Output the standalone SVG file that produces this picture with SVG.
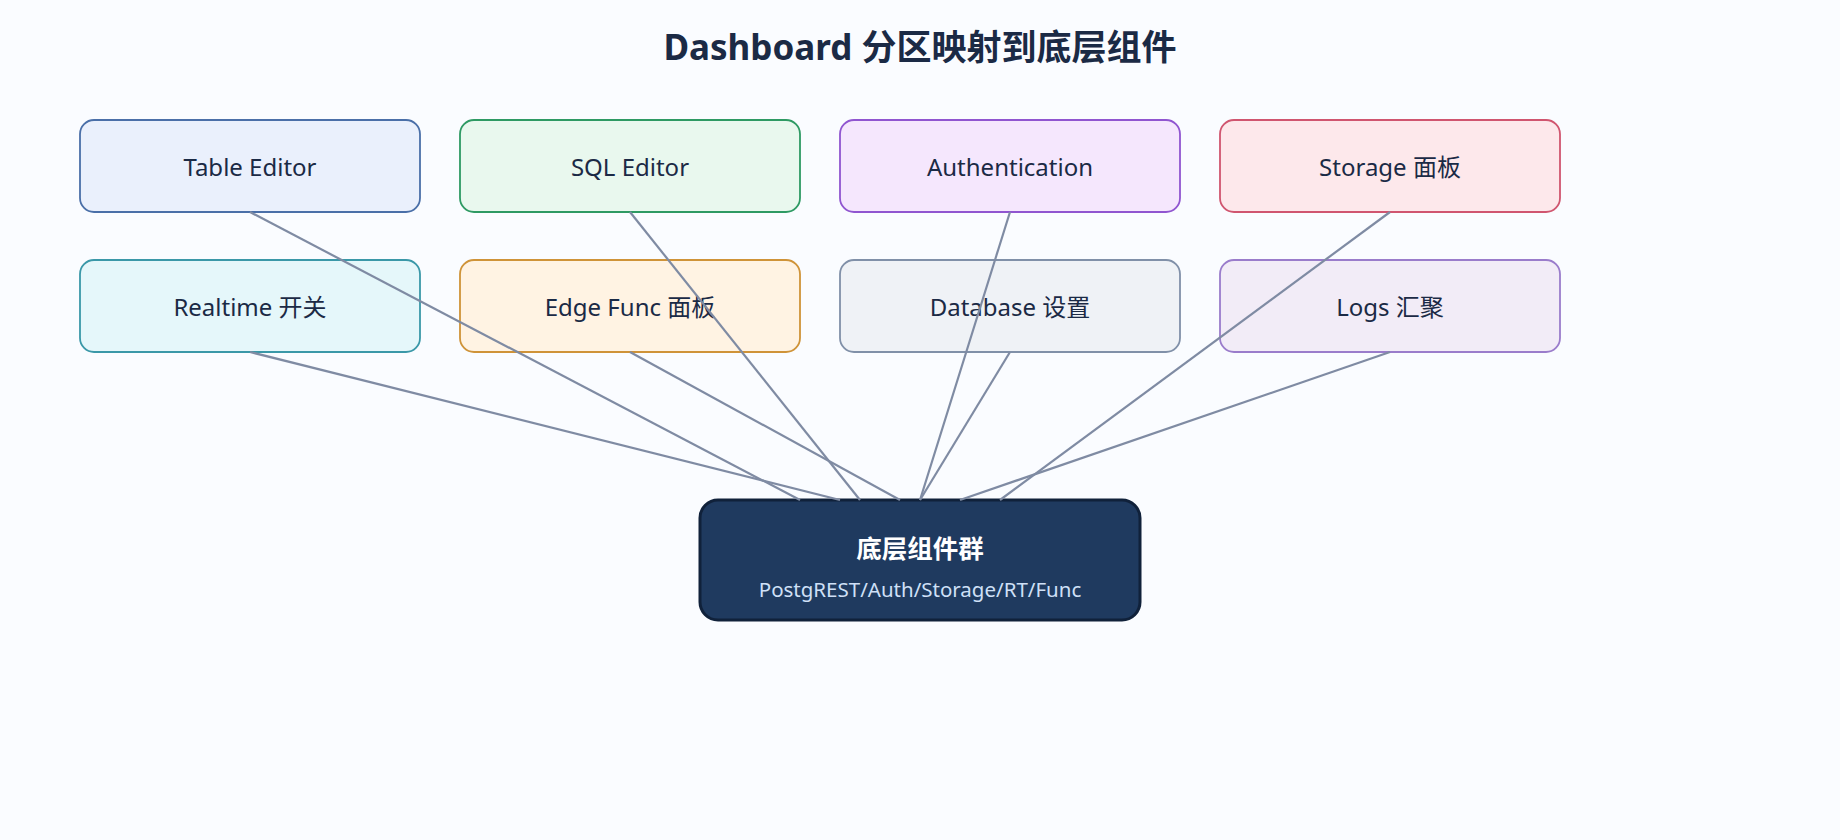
<svg xmlns="http://www.w3.org/2000/svg" width="1840" height="840" viewBox="0 0 1840 840">
<style>
.bg{fill:#fafcff}
.title{font-family:"Noto Sans","Noto Sans CJK SC",sans-serif;font-size:35px;font-weight:700;fill:#1b2a45;text-anchor:middle}
.box{stroke-width:1.8}
.lbl{font-family:"Noto Sans","Noto Sans CJK SC",sans-serif;font-size:24px;fill:#1b2a45;text-anchor:middle;dominant-baseline:central}
.edge{stroke:#7f8ba3;stroke-width:2.2;fill:none}
.core{fill:#1f3a5f;stroke:#10213a;stroke-width:3}
.coreT{font-family:"Noto Sans","Noto Sans CJK SC",sans-serif;font-size:25.5px;font-weight:700;fill:#ffffff;text-anchor:middle}
.coreS{font-family:"Noto Sans","Noto Sans CJK SC",sans-serif;font-size:20.5px;fill:#cfe0f7;text-anchor:middle}
</style>
<rect class="bg" x="0" y="0" width="1840" height="840"/>
<text class="title" x="920" y="60">Dashboard 分区映射到底层组件</text>
<g id="n-table"><rect class="box" x="80" y="120" width="340" height="92" rx="14" fill="#eaf0fc" stroke="#4a6fa8"/><text class="lbl" x="250" y="166">Table Editor</text></g>
<g id="n-sql"><rect class="box" x="460" y="120" width="340" height="92" rx="14" fill="#e9f8ee" stroke="#2e9a63"/><text class="lbl" x="630" y="166">SQL Editor</text></g>
<g id="n-auth"><rect class="box" x="840" y="120" width="340" height="92" rx="14" fill="#f5e7fd" stroke="#9055d0"/><text class="lbl" x="1010" y="166">Authentication</text></g>
<g id="n-storage"><rect class="box" x="1220" y="120" width="340" height="92" rx="14" fill="#fde8eb" stroke="#d0556f"/><text class="lbl" x="1390" y="166">Storage 面板</text></g>
<g id="n-realtime"><rect class="box" x="80" y="260" width="340" height="92" rx="14" fill="#e5f7fa" stroke="#3a98a8"/><text class="lbl" x="250" y="306">Realtime 开关</text></g>
<g id="n-edge"><rect class="box" x="460" y="260" width="340" height="92" rx="14" fill="#fff3e3" stroke="#cf9338"/><text class="lbl" x="630" y="306">Edge Func 面板</text></g>
<g id="n-db"><rect class="box" x="840" y="260" width="340" height="92" rx="14" fill="#eff2f6" stroke="#8090a8"/><text class="lbl" x="1010" y="306">Database 设置</text></g>
<g id="n-logs"><rect class="box" x="1220" y="260" width="340" height="92" rx="14" fill="#f2ecf7" stroke="#9a7ccb"/><text class="lbl" x="1390" y="306">Logs 汇聚</text></g>
<g id="n-core"><rect class="core" x="700" y="500" width="440" height="120" rx="18"/><text class="coreT" x="920" y="558">底层组件群</text><text class="coreS" x="920" y="597">PostgREST/Auth/Storage/RT/Func</text></g>
<g id="connectors">
<line class="edge" x1="250" y1="212" x2="800" y2="500"/>
<line class="edge" x1="630" y1="212" x2="860" y2="500"/>
<line class="edge" x1="1010" y1="212" x2="920" y2="500"/>
<line class="edge" x1="1390" y1="212" x2="1000" y2="500"/>
<line class="edge" x1="250" y1="352" x2="840" y2="500"/>
<line class="edge" x1="630" y1="352" x2="900" y2="500"/>
<line class="edge" x1="1010" y1="352" x2="920" y2="500"/>
<line class="edge" x1="1390" y1="352" x2="960" y2="500"/>
</g>
</svg>
